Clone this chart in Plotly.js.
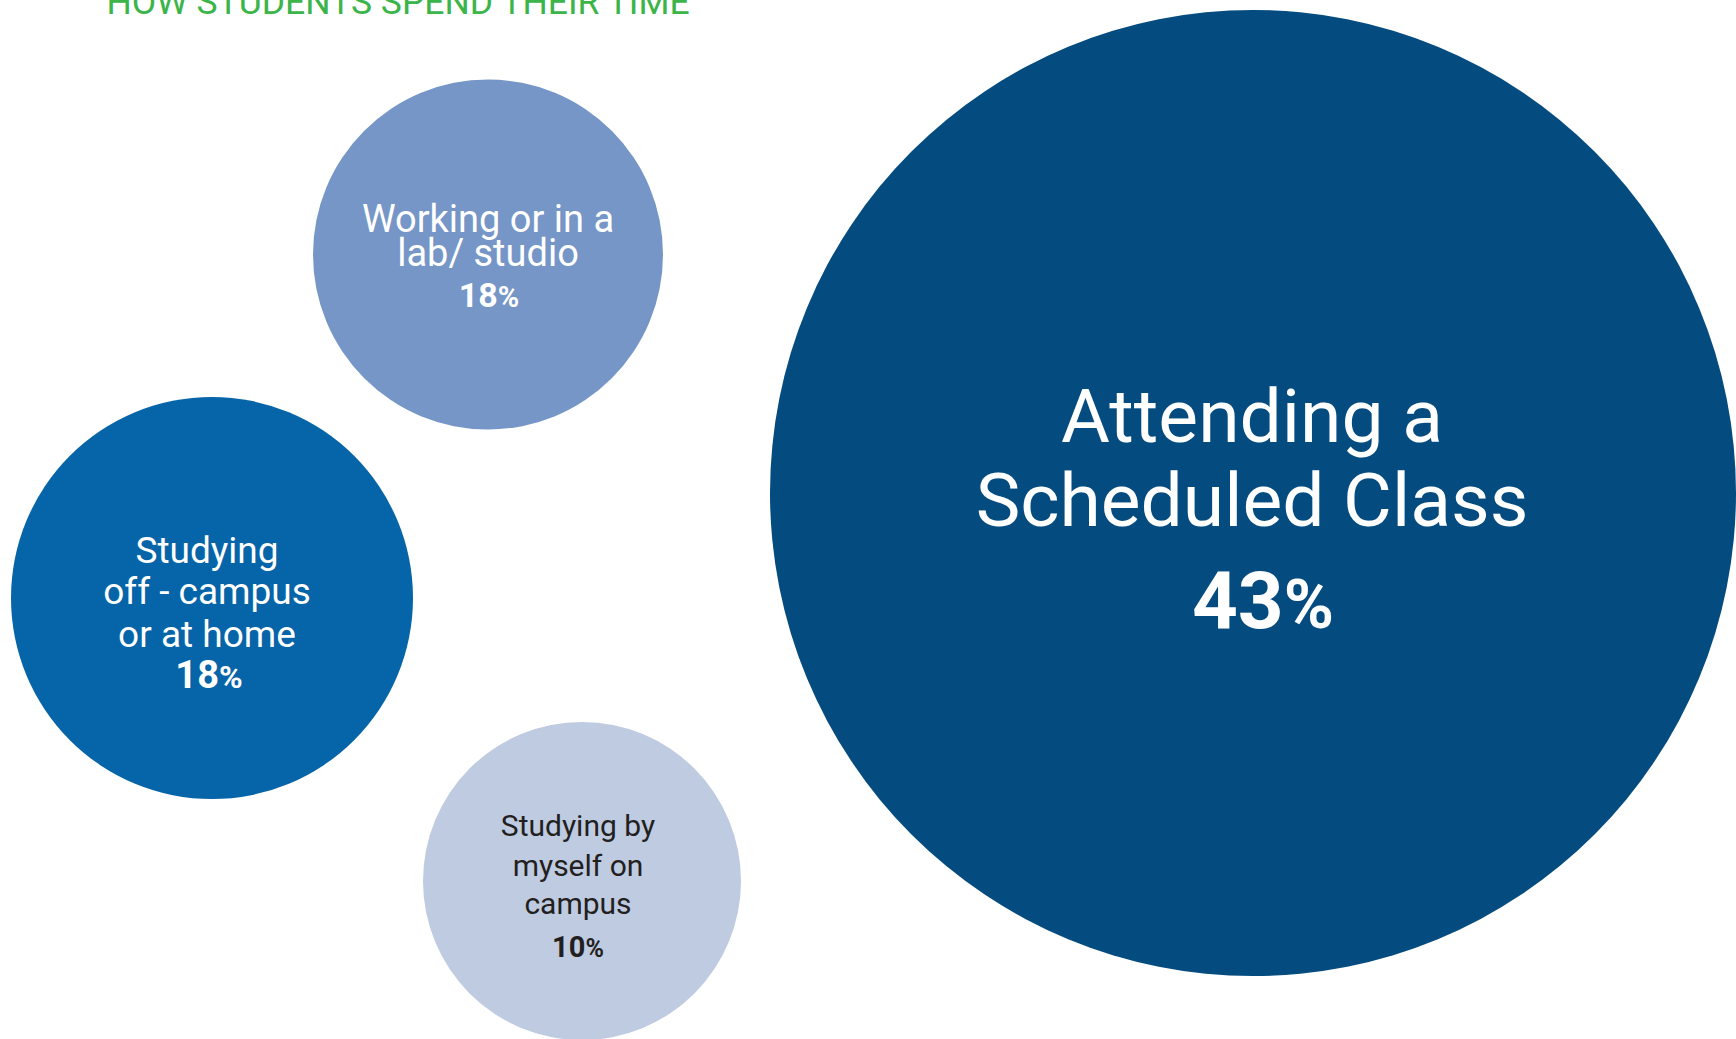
<!DOCTYPE html>
<html>
<head>
<meta charset="utf-8">
<script src="https://cdn.plot.ly/plotly-3.0.1.min.js"></script>
<style>
  html, body { margin: 0; padding: 0; background: #ffffff; overflow: hidden; }
  #chart { width: 1736px; height: 1039px; }
</style>
</head>
<body>
<div id="chart"></div>
<script>
// ---- data ----
const titleText = "HOW STUDENTS SPEND THEIR TIME";
const categories = [
  "Attending a Scheduled Class",
  "Working or in a lab/ studio",
  "Studying off - campus or at home",
  "Studying by myself on campus"
];
const labelLines = [
  ["Attending a", "Scheduled Class"],
  ["Working or in a", "lab/ studio"],
  ["Studying", "off - campus", "or at home"],
  ["Studying by", "myself on", "campus"]
];
const shares = [43, 18, 18, 10];

// ---- layout / style (pixel space of the 1736x1039 canvas) ----
const W = 1736, H = 1039;
const bubbleX = [1253, 488, 212, 582];
const bubbleY = [493, 254.5, 598, 881];
const bubbleD = [966, 350, 402, 318];
const bubbleColors = ["#044B7F", "#7596C6", "#0664A8", "#BECBE1"];
const textColors = ["#ffffff", "#ffffff", "#ffffff", "#231F20"];
const textX = [1252, 488, 207, 578];
const pctX = [1263, 489, 209, 578];
const lineY = [[423, 507], [222, 256.5], [553.5, 594.8, 637.5], [828.5, 868.2, 906.5]];
const pctY = [608.3, 298.5, 678.5, 950];
const labelSize = [75, 38, 37, 30];
const pctSize = [80, 34, 38, 29];
const pctSignRatio = 0.85;
const fontFamily = "Roboto, 'Open Sans', sans-serif";

const traces = [];

traces.push({
  type: "scatter",
  mode: "markers",
  x: bubbleX,
  y: bubbleY,
  text: categories,
  marker: {
    size: bubbleD,
    sizemode: "diameter",
    sizeref: 1,
    color: bubbleColors,
    opacity: 1,
    line: { width: 0 }
  },
  hoverinfo: "skip",
  showlegend: false
});

categories.forEach((cat, i) => {
  const xs = [], ys = [], txt = [], sizes = [];
  labelLines[i].forEach((ln, j) => {
    xs.push(textX[i]);
    ys.push(lineY[i][j]);
    txt.push(ln);
    sizes.push(labelSize[i]);
  });
  xs.push(pctX[i]);
  ys.push(pctY[i]);
  txt.push("<b>" + shares[i] + "<span style=\"font-size:" + Math.round(pctSize[i] * pctSignRatio) + "px\">%</span></b>");
  sizes.push(pctSize[i]);
  traces.push({
    type: "scatter",
    mode: "text",
    name: cat,
    x: xs,
    y: ys,
    text: txt,
    textposition: "middle center",
    textfont: { family: fontFamily, size: sizes, color: textColors[i] },
    hoverinfo: "skip",
    showlegend: false
  });
});

const layout = {
  width: W,
  height: H,
  margin: { l: 0, r: 0, t: 0, b: 0, pad: 0 },
  paper_bgcolor: "#ffffff",
  plot_bgcolor: "#ffffff",
  showlegend: false,
  hovermode: false,
  title: {
    text: titleText,
    font: { family: fontFamily, size: 35.5, color: "#3BB44A" },
    xref: "container",
    yref: "container",
    x: 398 / W,
    xanchor: "center",
    y: 1 - 14 / H,
    yanchor: "bottom",
    automargin: false
  },
  xaxis: { range: [0, W], visible: false, fixedrange: true, showgrid: false, zeroline: false },
  yaxis: { range: [H, 0], visible: false, fixedrange: true, showgrid: false, zeroline: false }
};

Plotly.newPlot("chart", traces, layout, { displayModeBar: false, staticPlot: true });
</script>
</body>
</html>
